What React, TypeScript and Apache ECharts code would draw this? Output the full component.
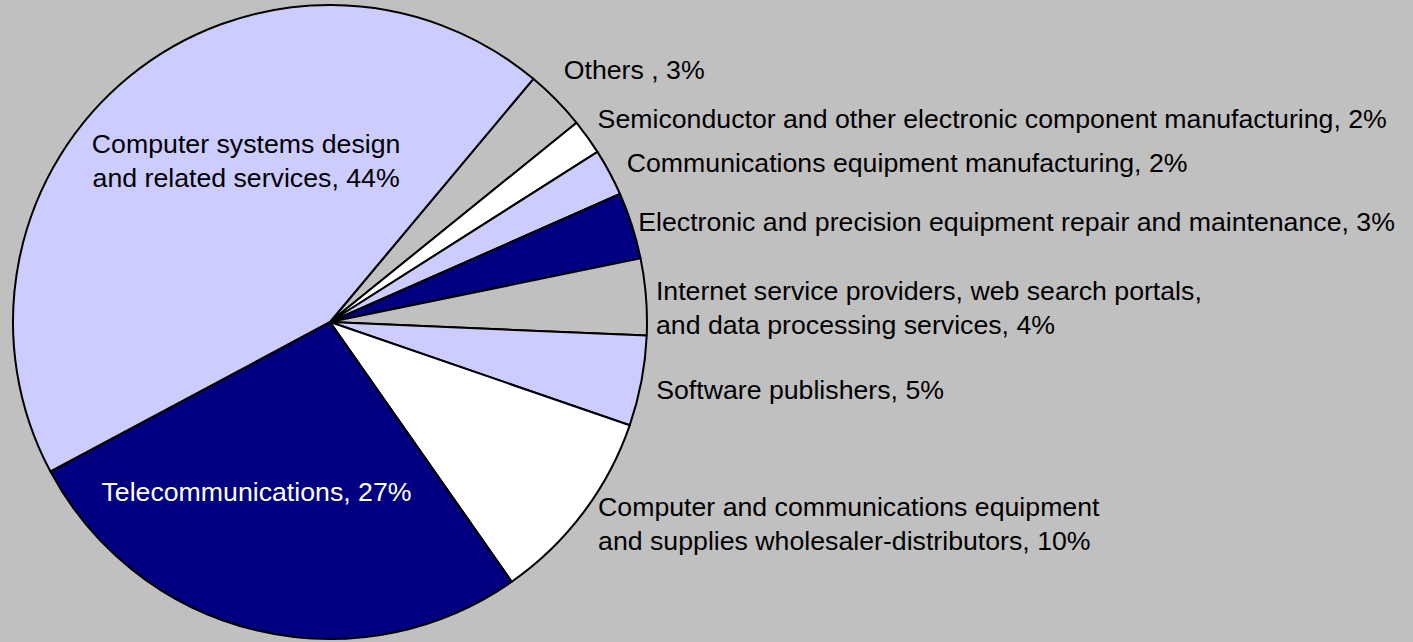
import React, { useEffect, useRef } from "react";
import * as echarts from "echarts";

// ---- data (clockwise from the "Others" slice) ----
const categories: string[] = [
  "Others ",
  "Semiconductor and other electronic component manufacturing",
  "Communications equipment manufacturing",
  "Electronic and precision equipment repair and maintenance",
  "Internet service providers, web search portals,\nand data processing services",
  "Software publishers",
  "Computer and communications equipment\nand supplies wholesaler-distributors",
  "Telecommunications",
  "Computer systems design\nand related services",
];
const values: number[] = [3.1, 1.8, 2.4, 3.4, 3.9, 4.6, 10.0, 26.9, 43.9];

// ---- styling (kept separate from data) ----
const LIGHT = "#CCCCFF";
const NAVY = "#000080";
const WHITE = "#FFFFFF";
const GRAY = "#C0C0C0";
const sliceColors = [GRAY, WHITE, LIGHT, NAVY, GRAY, LIGHT, WHITE, NAVY, LIGHT];
const insideIdx = [7, 8];
const insideColor: Record<number, string> = { 7: "#FFFFFF", 8: "#000000" };
// label nudges [dx, dy]
const labelNudge: number[][] = [
  [-3, -19],
  [-2, -9],
  [4, -2],
  [-8, 1],
  [-5, 12],
  [0, 6],
  [3, 2],
  [-36, 13],
  [18, -36],
];

const FONT = "'Liberation Sans', Arial, sans-serif";

export default function App() {
  const ref = useRef<HTMLDivElement>(null);
  useEffect(() => {
    document.body.style.margin = "0";
    if (!ref.current) return;
    const chart = echarts.init(ref.current, undefined, { renderer: "svg" });
    const data = categories.map((name, i) => {
      const inside = insideIdx.includes(i);
      return {
        name,
        value: values[i],
        itemStyle: { color: sliceColors[i] },
        label: inside
          ? { position: "inside", color: insideColor[i], align: "center" }
          : { position: "outside", align: "left" },
      };
    });
    chart.setOption({
      animation: false,
      backgroundColor: GRAY,
      series: [
        {
          type: "pie",
          center: [330, 322],
          radius: 317,
          startAngle: 50.1,
          clockwise: true,
          silent: true,
          avoidLabelOverlap: false,
          emphasis: { disabled: true },
          itemStyle: { borderColor: "#000000", borderWidth: 2 },
          label: {
            show: true,
            fontFamily: FONT,
            fontSize: 26.7,
            lineHeight: 34,
            color: "#000000",
            width: 900,
            overflow: "none",
            distanceToLabelLine: 0,
            formatter: (p: any) => `${p.name}, ${Math.round(p.percent)}%`,
          },
          labelLine: { show: false, length: 15, length2: 0 },
          labelLayout: (p: any) => {
            const n = labelNudge[p.dataIndex] || [0, 0];
            return { dx: n[0], dy: n[1] };
          },
          data,
        },
      ],
    });
    return () => chart.dispose();
  }, []);
  return <div ref={ref} style={{ width: 1413, height: 642 }} />;
}
